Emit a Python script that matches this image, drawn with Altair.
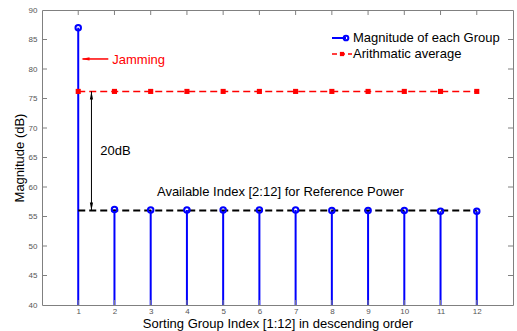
import altair as alt
import pandas as pd

group_index = list(range(1, 13))
magnitude = [87.0, 56.2, 56.1, 56.1, 56.1, 56.1, 56.1, 56.0, 56.0, 56.0, 55.9, 55.9]
average = [76.2] * 12
ref_level = [56.0, 56.0]
ref_span = [1, 12]
x_ticks = list(range(1, 13))
y_ticks = [45, 50, 55, 60, 65, 70, 75, 80, 85]
y_labels = [40, 45, 50, 55, 60, 65, 70, 75, 80, 85, 90]

W, H = 471, 295
FONT = "Liberation Sans"
xs = alt.Scale(domain=[0, 13], nice=False, zero=False)
ys = alt.Scale(domain=[40, 90], nice=False, zero=False)

x_axis = alt.Axis(values=x_ticks, title="Sorting Group Index [1:12] in descending order",
                  grid=False, ticks=False, labelFontSize=8, labelColor="#555", labelFont=FONT,
                  labelPadding=2, titleFont=FONT, titleFontSize=13, titleFontWeight="normal",
                  titleColor="#000", titlePadding=2, domain=False)
y_axis = alt.Axis(values=y_labels, title="Magnitude (dB)", grid=False, ticks=False,
                  labelFontSize=8, labelColor="#555", labelFont=FONT, labelPadding=5,
                  titleFont=FONT, titleFontSize=13, titleFontWeight="normal",
                  titleColor="#000", titlePadding=2, domain=False)


def X(f):
    return alt.X(f, scale=xs, axis=x_axis)


def Y(f):
    return alt.Y(f, scale=ys, axis=y_axis)


df = pd.DataFrame({"idx": group_index, "mag": magnitude, "avg": average, "base": [40] * 12})
ref_df = pd.DataFrame({"idx": ref_span, "lvl": ref_level})

stems = alt.Chart(df).mark_rule(color="#0000ff", strokeWidth=2).encode(
    x=X("idx:Q"), y=Y("base:Q"), y2="mag:Q")
ref_line = alt.Chart(ref_df).mark_line(color="black", strokeWidth=2, strokeDash=[7, 4]).encode(
    x=X("idx:Q"), y=Y("lvl:Q"))
circles = alt.Chart(df).mark_point(shape="circle", filled=False, color="#0000ff", strokeWidth=2, size=30, opacity=1).encode(
    x=X("idx:Q"), y=Y("mag:Q"))
avg_line = alt.Chart(df).mark_line(color="#ff0000", strokeWidth=1.5, strokeDash=[7, 4]).encode(
    x=X("idx:Q"), y=Y("avg:Q"))
avg_pts = alt.Chart(df).mark_point(shape="square", filled=True, color="#ff0000", size=26, opacity=1).encode(
    x=X("idx:Q"), y=Y("avg:Q"))

# annotations
ann_x = [1.94, 1.61, 6.58]
ann_y = [81.6, 66.1, 59.2]
ann_t = ["Jamming", "20dB", "Available Index [2:12] for Reference Power"]
ann = pd.DataFrame({"x": ann_x, "y": ann_y, "t": ann_t})
txt_jam = alt.Chart(ann.iloc[[0]]).mark_text(font=FONT, fontSize=13, align="left", baseline="middle", color="#ff0000").encode(
    x=X("x:Q"), y=Y("y:Q"), text="t:N")
txt_db = alt.Chart(ann.iloc[[1]]).mark_text(font=FONT, fontSize=13, align="left", baseline="middle", color="#000").encode(
    x=X("x:Q"), y=Y("y:Q"), text="t:N")
txt_av = alt.Chart(ann.iloc[[2]]).mark_text(font=FONT, fontSize=13, align="center", baseline="middle", color="#000").encode(
    x=X("x:Q"), y=Y("y:Q"), text="t:N")

jam_arrow = pd.DataFrame({"x": [1.12], "x2": [1.83], "y": [81.7]})
jam_line = alt.Chart(jam_arrow).mark_rule(color="#ff0000", strokeWidth=1.5).encode(
    x=X("x:Q"), x2="x2:Q", y=Y("y:Q"))
ARROW = "M0,-1L0.4,1L-0.4,1Z"
jam_head = alt.Chart(pd.DataFrame({"x": [1.2], "y": [81.7]})).mark_point(
    shape=ARROW, filled=True, color="#ff0000", size=64, angle=270, opacity=1).encode(
    x=X("x:Q"), y=Y("y:Q"))

db_df = pd.DataFrame({"x": [1.365], "y": [56.0], "y2": [76.2]})
db_line = alt.Chart(db_df).mark_rule(color="black", strokeWidth=1).encode(
    x=X("x:Q"), y=Y("y:Q"), y2="y2:Q")
db_up = alt.Chart(pd.DataFrame({"x": [1.365], "y": [75.5]})).mark_point(
    shape=ARROW, filled=True, color="black", size=64, angle=0, opacity=1).encode(
    x=X("x:Q"), y=Y("y:Q"))
db_dn = alt.Chart(pd.DataFrame({"x": [1.365], "y": [56.7]})).mark_point(
    shape=ARROW, filled=True, color="black", size=64, angle=180, opacity=1).encode(
    x=X("x:Q"), y=Y("y:Q"))

# inward ticks (MATLAB style box)
xt = pd.DataFrame({"v": x_ticks})
yt = pd.DataFrame({"v": y_ticks})
TK = "#808080"
tick_b = alt.Chart(xt).mark_rule(color=TK, strokeWidth=1).encode(
    x=X("v:Q"), y=alt.value(H), y2=alt.value(H - 5))
tick_t = alt.Chart(xt).mark_rule(color=TK, strokeWidth=1).encode(
    x=X("v:Q"), y=alt.value(0), y2=alt.value(5))
tick_l = alt.Chart(yt).mark_rule(color=TK, strokeWidth=1).encode(
    y=Y("v:Q"), x=alt.value(0), x2=alt.value(5))
tick_r = alt.Chart(yt).mark_rule(color=TK, strokeWidth=1).encode(
    y=Y("v:Q"), x=alt.value(W), x2=alt.value(W - 5))

# legend (manual)
leg = pd.DataFrame({"t": ["Magnitude of each Group", "Arithmatic average"]})
LX, LY1, LY2 = 290, 28, 44
leg_l1 = alt.Chart(leg.iloc[[0]]).mark_rule(color="#0000ff", strokeWidth=2).encode(
    x=alt.value(LX), x2=alt.value(LX + 14), y=alt.value(LY1))
leg_p1 = alt.Chart(leg.iloc[[0]]).mark_point(shape="circle", filled=False, color="#0000ff", strokeWidth=2, size=22, opacity=1).encode(
    x=alt.value(LX + 14), y=alt.value(LY1))
leg_t1 = alt.Chart(leg.iloc[[0]]).mark_text(font=FONT, fontSize=13, align="left", baseline="middle", color="#000").encode(
    x=alt.value(LX + 21), y=alt.value(LY1), text="t:N")
leg_l2 = alt.Chart(leg.iloc[[1]]).mark_rule(color="#ff0000", strokeWidth=1.5, strokeDash=[5, 3]).encode(
    x=alt.value(LX), x2=alt.value(LX + 20), y=alt.value(LY2))
leg_p2 = alt.Chart(leg.iloc[[1]]).mark_point(shape="square", filled=True, color="#ff0000", size=18, opacity=1).encode(
    x=alt.value(LX + 10), y=alt.value(LY2))
leg_t2 = alt.Chart(leg.iloc[[1]]).mark_text(font=FONT, fontSize=13, align="left", baseline="middle", color="#000").encode(
    x=alt.value(LX + 21), y=alt.value(LY2), text="t:N")

chart = alt.layer(
    stems, tick_b, tick_t, tick_l, tick_r, ref_line, circles, avg_line, avg_pts,
    jam_line, jam_head, db_line, db_up, db_dn, txt_jam, txt_db, txt_av,
    leg_l1, leg_p1, leg_t1, leg_l2, leg_p2, leg_t2,
).properties(
    width=W, height=H,
    autosize=alt.AutoSizeParams(type="none"),
    padding={"left": 42, "top": 10, "right": 4, "bottom": 26},
    background="white",
).configure_view(stroke="#808080", strokeWidth=1)

chart.save("out.html", embed_options={"renderer": "svg", "actions": False})
